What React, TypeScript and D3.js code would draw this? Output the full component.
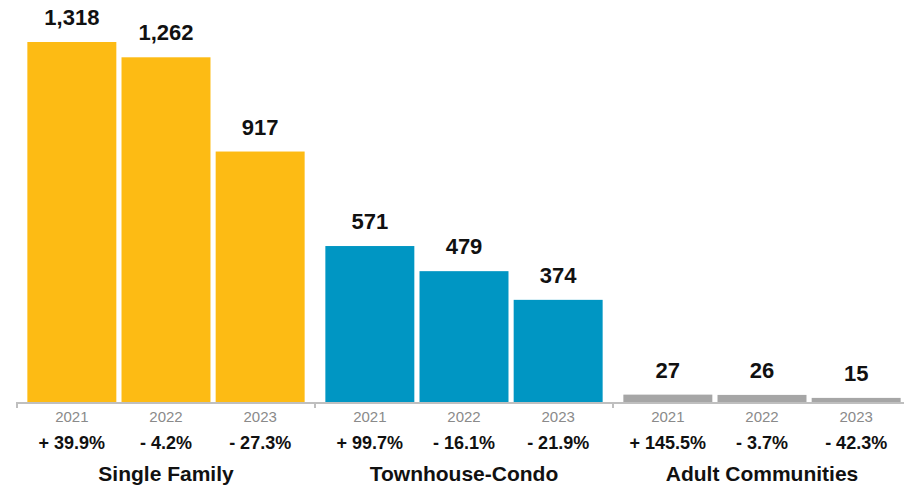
import React from "react";
import * as d3 from "d3";

const categories = ["Single Family", "Townhouse-Condo", "Adult Communities"];
const years = ["2021", "2022", "2023"];
const values = [
  [1318, 1262, 917],
  [571, 479, 374],
  [27, 26, 15],
];
const changes = [
  ["+ 39.9%", "- 4.2%", "- 27.3%"],
  ["+ 99.7%", "- 16.1%", "- 21.9%"],
  ["+ 145.5%", "- 3.7%", "- 42.3%"],
];
const colors = ["#FDBB14", "#0096C3", "#A6A6A6"];

const W = 904;
const H = 488;
const baseY = 402;
const font = "'Liberation Sans', Arial, Helvetica, sans-serif";

export default function App() {
  const x0 = d3.scaleBand<string>().domain(categories).range([17, 911]).padding(0);
  const x1 = d3
    .scaleBand<string>()
    .domain(years)
    .range([0, x0.bandwidth()])
    .paddingInner(0.055)
    .paddingOuter(0.11);
  const y = d3.scaleLinear().domain([0, 1318]).range([baseY, 42]);
  const fmt = d3.format(",");

  return (
    <svg
      width={W}
      height={H}
      style={{ position: "absolute", left: 0, top: 0, fontFamily: font }}
    >
      {categories.map((c, ci) => {
        const gx = x0(c)!;
        return (
          <g key={c} transform={`translate(${gx},0)`}>
            {years.map((yr, yi) => {
              const v = values[ci][yi];
              const bx = x1(yr)!;
              const bw = x1.bandwidth();
              const cx = bx + bw / 2;
              return (
                <g key={yr}>
                  <rect x={bx} y={y(v)} width={bw} height={baseY - y(v)} fill={colors[ci]} />
                  <text
                    x={cx}
                    y={y(v) - 17}
                    textAnchor="middle"
                    fontSize={22}
                    fontWeight="bold"
                    fill="#111"
                  >
                    {fmt(v)}
                  </text>
                  <text x={cx} y={422} textAnchor="middle" fontSize={15} fill="#8a8a8a">
                    {yr}
                  </text>
                  <text
                    x={cx}
                    y={449}
                    textAnchor="middle"
                    fontSize={18}
                    fontWeight="bold"
                    fill="#111"
                  >
                    {changes[ci][yi]}
                  </text>
                </g>
              );
            })}
            <text
              x={x0.bandwidth() / 2}
              y={481}
              textAnchor="middle"
              fontSize={21}
              fontWeight="bold"
              fill="#111"
            >
              {c}
            </text>
          </g>
        );
      })}
      <line x1={17} x2={W} y1={baseY + 1} y2={baseY + 1} stroke="#BFBFBF" strokeWidth={2} />
      {[...categories.map((c) => x0(c)!), x0.range()[1]].map((tx, i) => (
        <line key={i} x1={tx} x2={tx} y1={baseY} y2={baseY + 6} stroke="#BFBFBF" strokeWidth={2} />
      ))}
    </svg>
  );
}
